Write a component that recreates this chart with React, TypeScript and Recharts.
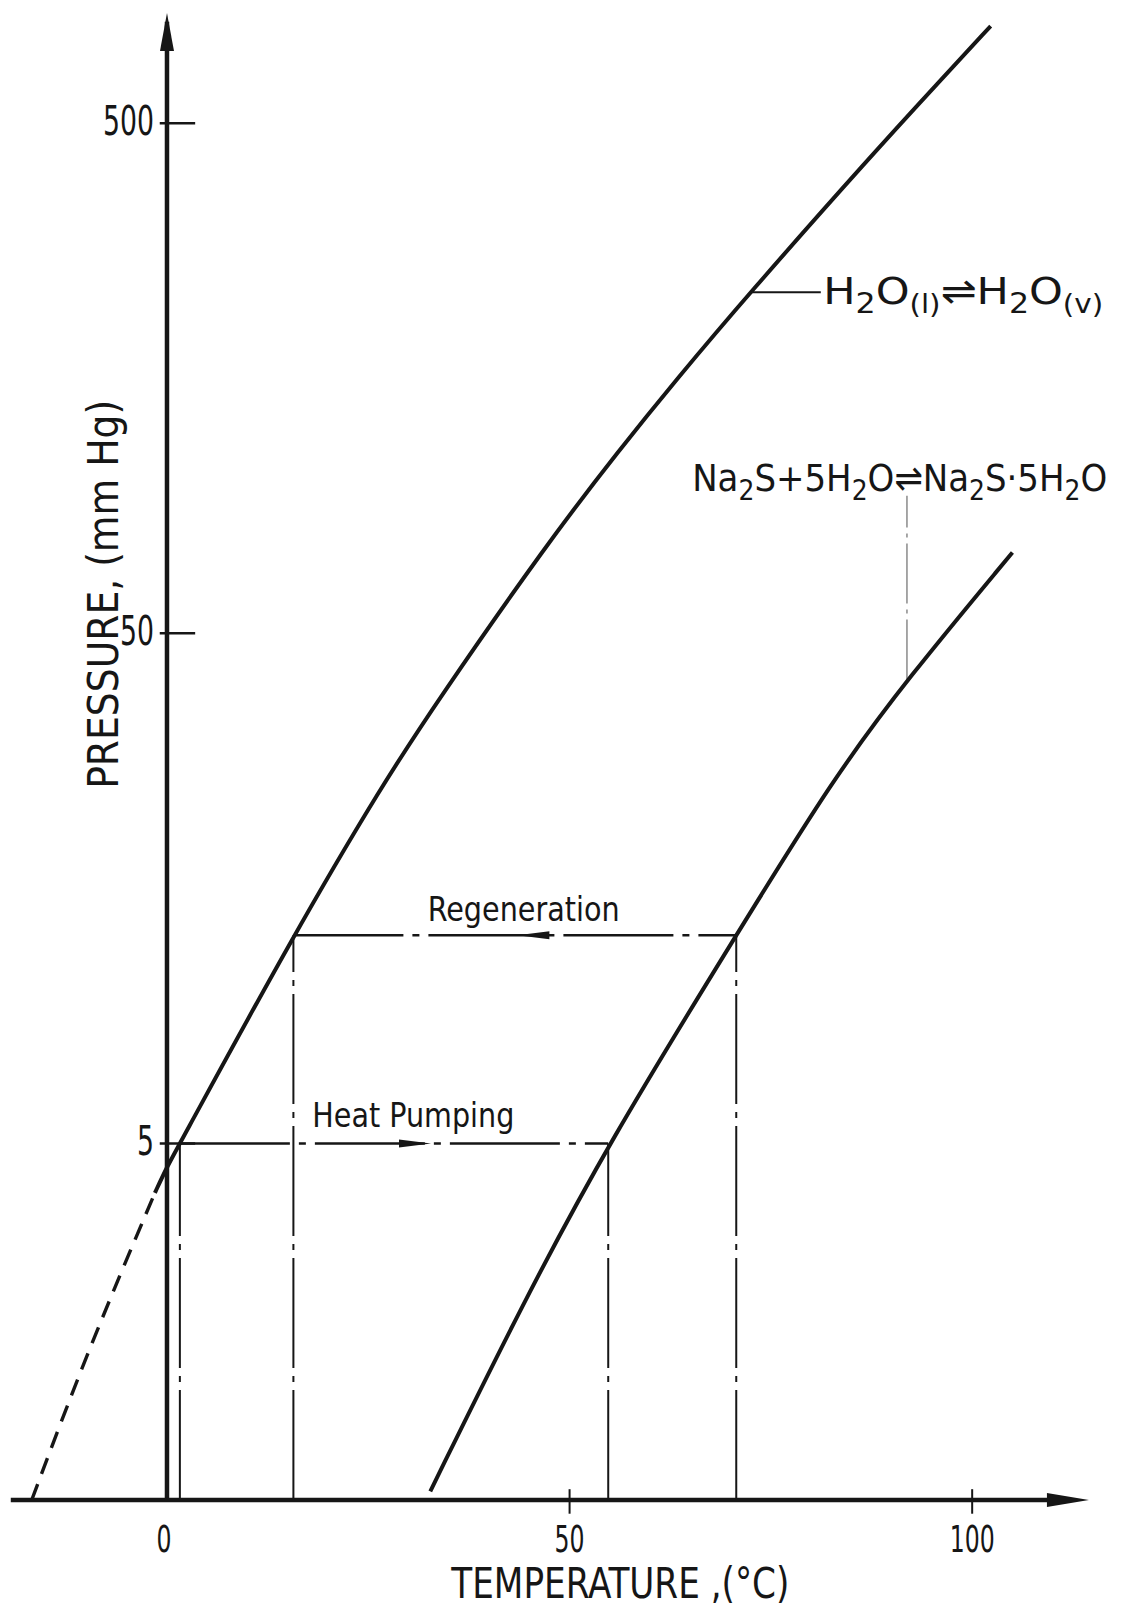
import React from 'react'
import { ComposedChart, Line, XAxis, YAxis, ReferenceLine, ReferenceDot } from 'recharts'

const FONT = "'DejaVu Sans Condensed', 'Liberation Sans Narrow', 'DejaVu Sans', sans-serif"
const INK = '#161616'

// water vapour pressure curve (°C, mm Hg)
const waterT = [-1.5, 0, 1.6, 15.7, 26.8, 33.3, 47.2, 56.3, 63.1, 72, 87.7, 96, 102.3]
const waterP = [4.0, 4.5, 5, 12.8, 25.3, 36.3, 75, 115, 156, 229, 436, 605, 775]
// dashed extrapolation below 0 °C
const waterExtT = [-16.8, -9.9, -1.5]
const waterExtP = [1.0, 1.95, 4.0]
// Na2S / Na2S.5H2O equilibrium
const na2sT = [32.7, 43.9, 54.8, 70.7, 82.7, 91.9, 105]
const na2sP = [1.04, 2.38, 5, 12.8, 25.9, 40.6, 72]

// heat pump cycle
const pumpP = 5
const pumpT = [1.6, 54.8]
const regenP = 12.8
const regenT = [15.7, 70.7]

const yTicks = [5, 50, 500]
const xTicks = [0, 50, 100]

const pts = (ts: number[], ps: number[]) => ts.map((t, i) => ({ t, p: ps[i] }))

const water = pts(waterT, waterP)
const waterExt = pts(waterExtT, waterExtP)
const na2s = pts(na2sT, na2sP)

const drops = [
  [pumpT[0], pumpP],
  [regenT[0], regenP],
  [pumpT[1], pumpP],
  [regenT[1], regenP],
]

type TextOpts = {
  dx?: number
  dy?: number
  anchor?: 'start' | 'middle' | 'end'
  size?: number
  len?: number
  rotate?: boolean
}

function textShape(content: React.ReactNode, o: TextOpts) {
  return (p: any) => {
    const x = p.cx + (o.dx ?? 0)
    const y = p.cy + (o.dy ?? 0)
    return (
      <text
        x={x}
        y={y}
        textAnchor={o.anchor ?? 'middle'}
        fontFamily={FONT}
        fontSize={o.size ?? 34}
        fill={INK}
        textLength={o.len}
        lengthAdjust={o.len ? 'spacingAndGlyphs' : undefined}
        transform={o.rotate ? `rotate(-90 ${x} ${y})` : undefined}
      >
        {content}
      </text>
    )
  }
}

const arrowUp = (p: any) => (
  <polygon points={`${p.cx},${p.cy} ${p.cx - 7},${p.cy + 38} ${p.cx + 7},${p.cy + 38}`} fill={INK} />
)
const arrowRight = (p: any) => (
  <polygon points={`${p.cx},${p.cy} ${p.cx - 42},${p.cy - 7} ${p.cx - 42},${p.cy + 7}`} fill={INK} />
)
const flowRight = (p: any) => (
  <polygon points={`${p.cx + 16},${p.cy} ${p.cx - 16},${p.cy - 4} ${p.cx - 16},${p.cy + 4}`} fill={INK} />
)
const flowLeft = (p: any) => (
  <polygon points={`${p.cx - 16},${p.cy} ${p.cx + 16},${p.cy - 4} ${p.cx + 16},${p.cy + 4}`} fill={INK} />
)

const Sub = ({ s, size = 28, d = 9 }: { s: string; size?: number; d?: number }) => (
  <tspan fontSize={size} dy={d}>{s}</tspan>
)
const Up = ({ s, d = 9 }: { s: string; d?: number }) => <tspan dy={-d}>{s}</tspan>

const h2oLabel = (
  <>
    H<Sub s="2" /><Up s="O" />
    <Sub s="(l)" size={26} /><Up s="⇌H" />
    <Sub s="2" /><Up s="O" />
    <Sub s="(v)" size={26} />
  </>
)

const na2sLabel = (
  <>
    Na<Sub s="2" /><Up s="S+5H" />
    <Sub s="2" /><Up s="O⇌Na" />
    <Sub s="2" /><Up s="S·5H" />
    <Sub s="2" /><Up s="O" />
  </>
)

export default function App() {
  return (
    <div style={{ width: 1116, height: 1599, background: '#fff' }}>
      <ComposedChart width={1116} height={1599} margin={{ top: 5, right: 23, left: 6, bottom: 107 }}>
        <XAxis dataKey="t" type="number" domain={[-19, 116]} allowDataOverflow hide />
        <YAxis dataKey="p" type="number" scale="log" domain={[1, 822]} allowDataOverflow hide />

        {/* axes */}
        <ReferenceLine segment={[{ x: 0, y: 1 }, { x: 0, y: 790 }]} stroke={INK} strokeWidth={4.5} ifOverflow="visible" />
        <ReferenceDot x={0} y={822} r={0} shape={arrowUp} ifOverflow="visible" />
        <ReferenceLine segment={[{ x: -19.4, y: 1 }, { x: 111, y: 1 }]} stroke={INK} strokeWidth={4.5} ifOverflow="visible" />
        <ReferenceDot x={114.5} y={1} r={0} shape={arrowRight} ifOverflow="visible" />

        {yTicks.map(v => (
          <ReferenceLine key={`yt${v}`} segment={[{ x: -0.9, y: v }, { x: 3.5, y: v }]} stroke={INK} strokeWidth={2.5} ifOverflow="visible" />
        ))}
        {yTicks.map(v => (
          <ReferenceDot key={`yl${v}`} x={0} y={v} r={0} ifOverflow="visible"
            shape={textShape(String(v), { anchor: 'end', dx: -13, dy: 12, size: 40, len: String(v).length * 17 })} />
        ))}
        {xTicks.filter(v => v !== 0).map(v => (
          <ReferenceLine key={`xt${v}`} segment={[{ x: v, y: 1.05 }, { x: v, y: 0.94 }]} stroke={INK} strokeWidth={2} ifOverflow="visible" />
        ))}
        {xTicks.map(v => (
          <ReferenceDot key={`xl${v}`} x={v} y={1} r={0} ifOverflow="visible"
            shape={textShape(String(v), { dx: v === 0 ? -3 : 0, dy: 52, size: 38, len: String(v).length * 15 })} />
        ))}

        <ReferenceDot x={56.3} y={1} r={0} ifOverflow="visible"
          shape={textShape('TEMPERATURE ,(°C)', { dy: 98, size: 42, len: 338 })} />
        <ReferenceDot x={0} y={59.6} r={0} ifOverflow="visible"
          shape={textShape('PRESSURE, (mm Hg)', { dx: -49, size: 42, len: 389, rotate: true })} />

        {/* cycle: drop lines and process lines */}
        {drops.map(([t, p]) => (
          <Line key={`d${t}`} data={pts([t, t], [1, p])} dataKey="p" type="linear" stroke={INK} strokeWidth={2}
            strokeDasharray="110 8 6 8" dot={false} isAnimationActive={false} />
        ))}
        <Line data={pts(pumpT, [pumpP, pumpP])} dataKey="p" type="linear" stroke={INK} strokeWidth={2.5}
          strokeDasharray="110 9 7 9" dot={false} isAnimationActive={false} />
        <Line data={pts(regenT, [regenP, regenP])} dataKey="p" type="linear" stroke={INK} strokeWidth={2.5}
          strokeDasharray="110 9 7 9" dot={false} isAnimationActive={false} />
        <ReferenceDot x={30.8} y={pumpP} r={0} shape={flowRight} />
        <ReferenceDot x={45.5} y={regenP} r={0} shape={flowLeft} />

        {/* leader lines */}
        <Line data={pts([91.9, 91.9], [40.6, 93])} dataKey="p" type="linear" stroke="#8a8a8a" strokeWidth={1.5}
          strokeDasharray="60 6 4 6" dot={false} isAnimationActive={false} />
        <Line data={pts([72.6, 81.2], [233, 233])} dataKey="p" type="linear" stroke={INK} strokeWidth={2}
          dot={false} isAnimationActive={false} />

        {/* equilibrium curves */}
        <Line data={waterExt} dataKey="p" type="basis" stroke={INK} strokeWidth={3.4}
          strokeDasharray="17 11" dot={false} isAnimationActive={false} />
        <Line data={water} dataKey="p" type="basis" stroke={INK} strokeWidth={4} dot={false} isAnimationActive={false} />
        <Line data={na2s} dataKey="p" type="basis" stroke={INK} strokeWidth={4} dot={false} isAnimationActive={false} />

        {/* annotations */}
        <ReferenceDot x={81.5} y={233} r={0} ifOverflow="visible"
          shape={textShape(h2oLabel, { anchor: 'start', dy: 12, size: 38, len: 280 })} />
        <ReferenceDot x={91} y={95} r={0} ifOverflow="visible"
          shape={textShape(na2sLabel, { dy: 0, size: 38, len: 415 })} />
        <ReferenceDot x={44.3} y={regenP} r={0} ifOverflow="visible"
          shape={textShape('Regeneration', { dy: -14, size: 34, len: 192 })} />
        <ReferenceDot x={30.6} y={pumpP} r={0} ifOverflow="visible"
          shape={textShape('Heat Pumping', { dy: -16, size: 34, len: 202 })} />
      </ComposedChart>
    </div>
  )
}
